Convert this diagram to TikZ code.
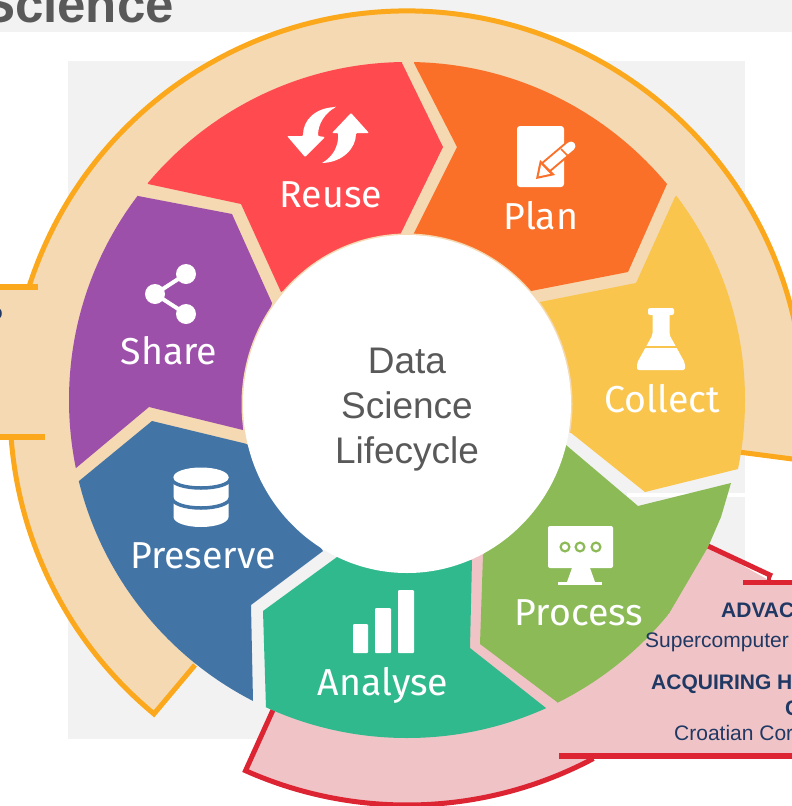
\documentclass[tikz,border=0pt]{standalone}
\usepackage{fontspec}
\setmainfont{Liberation Sans}
\newfontfamily\lab{Fira Sans}
\usetikzlibrary{calc}
\definecolor{bggrey}{HTML}{F2F2F2}
\definecolor{beige}{HTML}{F4D9B3}
\definecolor{orangeline}{HTML}{FBA81C}
\definecolor{pinkband}{HTML}{F0C4C6}
\definecolor{redline}{HTML}{DC2433}
\definecolor{cReuse}{HTML}{FF4B4F}
\definecolor{cPlan}{HTML}{FA7028}
\definecolor{cCollect}{HTML}{FAC54C}
\definecolor{cProcess}{HTML}{8BBA57}
\definecolor{cAnalyse}{HTML}{31B98E}
\definecolor{cPreserve}{HTML}{4275A6}
\definecolor{cShare}{HTML}{9D50AA}
\definecolor{ink}{HTML}{1F3864}
\definecolor{midgrey}{HTML}{595959}
\tikzset{
  seglabel/.style={text=white,inner sep=0pt,anchor=base,font=\lab\fontsize{37.5}{37.5}\selectfont},
  boxbold/.style={text=ink,inner sep=0pt,anchor=base west,font=\bfseries\fontsize{21}{21}\selectfont},
  boxreg/.style={text=ink,inner sep=0pt,anchor=base west,font=\fontsize{21}{21}\selectfont},
  orangestroke/.style={draw=orangeline,line width=5pt},
  redstroke/.style={draw=redline,line width=5pt},
}
\begin{document}
\begin{tikzpicture}[x=1pt,y=-1pt]
\useasboundingbox (0,0) rectangle (792,806);
\clip (0,0) rectangle (792,806);
% backgrounds
\fill[bggrey] (0,0) rectangle (792,32);
\fill[bggrey] (68,61) rectangle (745,739);
\fill[white] (627,493) rectangle (745,497);
\node[inner sep=0pt,anchor=base east,text=midgrey,font=\bfseries\fontsize{51}{51}\selectfont] (title) at (174,22) {Science};
% beige band
\fill[beige] (0,287) -- ($(407,408)+(197.9:397)$) arc[start angle=197.9,end angle=350,radius=397]
  -- (800,460) -- (570,430) -- (407,400) -- (300,539) -- (155,713)
  arc[start angle=129.6,end angle=175.8,radius=397] -- (0,437) -- cycle;
\draw[orangestroke] ($(407,408)+(197.9:397)$) arc[start angle=197.9,end angle=350,radius=397];
\draw[orangestroke] (800,460) -- (570,430);
\draw[orangestroke,line join=miter] (195,665) -- ($(407,408)+(129.6:397)$) arc[start angle=129.6,end angle=175.8,radius=397];
\fill[orangeline] (0,284) rectangle (37.5,290);
\fill[orangeline] (0,434) rectangle (45,440);
% pink band
\fill[pinkband] (273,710) -- ($(407,408)+(114:397)$) arc[start angle=114,end angle=62,radius=397]
  -- (593,756) -- (800,756) -- (800,582) -- (772,582) -- (708,546) -- (600,500) -- (480,540) -- (400,540) -- (300,600) -- cycle;
\draw[redstroke,line join=miter] (273,710) -- ($(407,408)+(114:397)$) arc[start angle=114,end angle=62,radius=397];
\draw[redstroke] (708,546) -- (772,576);
\draw[redline,line width=3.5pt] (769,574) -- (769,582);
\fill[redline] (743,579.5) rectangle (800,584.5);
\fill[redline] (559,753) rectangle (800,759);
% segments
\begin{scope}
\clip (407,400) circle[radius=338];
\fill[cReuse] (148,184) -- (100,0) -- (402,-50) -- (402,63) -- (443,147) -- (400,235) -- (281,292) -- (241,204) -- cycle;
\fill[cPlan] (414,63) -- (414,-50) -- (760,60) -- (667,184) -- (628,272) -- (531,291) -- (413,235) -- (457,147) -- cycle;
\fill[cCollect] (675,197) -- (800,100) -- (850,500) -- (738,469) -- (645,492) -- (570,432) -- (540,302) -- (636,283) -- cycle;
\fill[cProcess] (731,483) -- (721,517) -- (708,547) -- (667,617) -- (850,800) -- (620,800) -- (557,702) -- (480,644) -- (483,555) -- (566,445) -- (638,506) -- cycle;
\fill[cAnalyse] (546,708) -- (600,850) -- (250,850) -- (266,708) -- (263,611) -- (337,557) -- (472,560) -- (470,648) -- cycle;
\fill[cPreserve] (79,481) -- (-50,520) -- (253,850) -- (253,701) -- (251,605) -- (323,551) -- (247,444) -- (152,421) -- cycle;
\fill[cShare] (138,196) -- (232,214) -- (272,303) -- (243,430) -- (149,407) -- (76,468) -- (-50,400) -- (60,100) -- cycle;
\end{scope}
% rim and centre
\begin{scope}
\clip (570,432) -- (800,432) -- (800,-10) -- (-10,-10) -- (-10,440) -- (247,444) -- (407,400) -- cycle;
\fill[beige] (407,404) ellipse[x radius=165.5,y radius=170.5];
\end{scope}
\fill[white] (407,404) ellipse[x radius=164,y radius=169];
\node[inner sep=0pt,align=center,text=midgrey,font=\fontsize{37}{45}\selectfont] (centre) at (407,410) {Data\\Science\\Lifecycle};
% labels
\node[seglabel] (reuse) at (331,207) {Reuse};
\node[seglabel] (plan) at (541,229) {Plan};
\node[seglabel] (collect) at (662,412) {Collect};
\node[seglabel] (process) at (579,625) {Process};
\node[seglabel] (analyse) at (383,695) {Analyse};
\node[seglabel] (preserve) at (203,568) {Preserve};
\node[seglabel] (share) at (169,364) {Share};
% reuse icon
\fill[white,rounded corners=1pt] (336,107) .. controls (315,108) and (303,120) .. (303,136) -- (287,136) -- (305,157) -- (325,137) -- (318,136) .. controls (318,124) and (325,113) .. (336,107) -- cycle;
\fill[white,rounded corners=1pt] (322,163) .. controls (343,162) and (356,148) .. (356,133) -- (369,133) -- (351,113) -- (332,133) -- (338,133) .. controls (339,147) and (332,157) .. (322,163) -- cycle;
% plan icon
\fill[white,rounded corners=3pt] (517,126) rectangle (564,187);
\draw[cPlan,line width=13pt,line cap=round] (545,168) -- (571,146);
\draw[white,line width=9pt,line cap=round] (545,168) -- (571,146);
\draw[cPlan,line width=1.6pt] (561,149) -- (569,157);
\fill[cPlan] (536,179) -- (540,160) -- (555,175) -- cycle;
\fill[white] (538.7,176.3) -- (541.3,164) -- (551,173.7) -- cycle;
\draw[cPlan,line width=1.4pt] (541.5,163.5) -- (551.5,174);
% flask icon
\fill[white,rounded corners=2pt] (648,308) rectangle (674,315);
\fill[white,rounded corners=2pt] (652.5,312) -- (669.5,312) -- (669.5,335) -- (685,363) -- (685,370) -- (637,370) -- (637,363) -- (652.5,335) -- cycle;
\draw[cCollect,line width=1.6pt] (640,347) -- (682,347);
% share icon
\fill[white] (186,274) circle[radius=10] (155,294) circle[radius=10] (186,314) circle[radius=10];
\draw[white,line width=4pt] (186,274) -- (155,294) -- (186,314);
% database icon
\fill[white] (173.5,477) -- (173.5,517) arc[start angle=180,end angle=0,x radius=27.5,y radius=10] -- (228.5,477) -- cycle;
\fill[white] (201,477) ellipse[x radius=27.5,y radius=9.5];
\draw[cPreserve,line width=3.5pt] (172,479) arc[start angle=180,end angle=0,x radius=29,y radius=9];
\draw[cPreserve,line width=3.5pt] (172,498) arc[start angle=180,end angle=0,x radius=29,y radius=10];
% monitor icon
\fill[white,rounded corners=2pt] (548,526) rectangle (613,568);
\fill[white] (572,568) -- (590,568) -- (595,582) -- (567,582) -- cycle;
\fill[white] (558,582) rectangle (602,584.5);
\foreach \dotx in {565,580,596}{\filldraw[fill=white,draw=cProcess,line width=2.2pt] (\dotx,547) circle[radius=4.4];}
% bars icon
\fill[white,rounded corners=1pt] (353,624) rectangle (368,653);
\fill[white,rounded corners=1pt] (375,608) rectangle (391,653);
\fill[white,rounded corners=1pt] (398,590) rectangle (414,653);
% cut-off box texts
\node[boxbold,anchor=base east] (leftfrag) at (3,319) {o};
\node[boxbold] (advac) at (721,617) {ADVAC};
\node[boxreg] (super) at (645,647) {Supercomputer};
\node[boxbold] (acq) at (651,689) {ACQUIRING H};
\node[boxbold] (cfrag) at (785,715) {C};
\node[boxreg] (croat) at (674,740) {Croatian Cor};
\end{tikzpicture}
\end{document}
